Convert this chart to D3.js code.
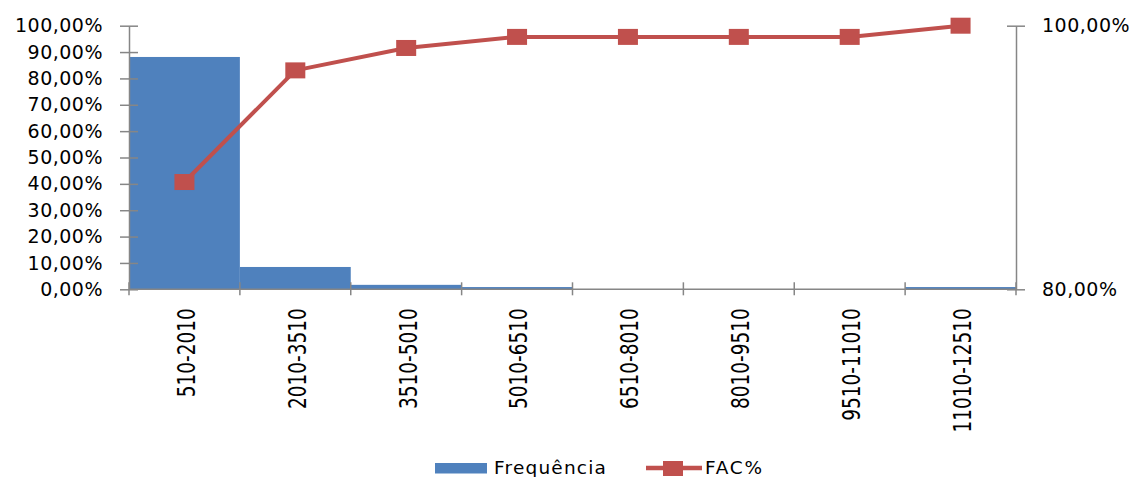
<!DOCTYPE html>
<html>
<head>
<meta charset="utf-8">
<script src="https://cdn.jsdelivr.net/npm/d3@7"></script>
<style>
html,body{margin:0;padding:0;background:#fff;}
svg{display:block;}
text{font-family:"DejaVu Sans",Verdana,sans-serif;fill:#000;}
</style>
</head>
<body>
<svg id="chart" width="1137" height="477"></svg>
<script>
// ---- data ----
const categories = ["510-2010","2010-3510","3510-5010","5010-6510","6510-8010","8010-9510","9510-11010","11010-12510"];
const frequencia = [0.8814, 0.0847, 0.0169, 0.0085, 0, 0, 0, 0.0085];
const facPct = [0.8814, 0.9661, 0.9831, 0.9915, 0.9915, 0.9915, 0.9915, 1.0];
const leftTicks = [0,0.1,0.2,0.3,0.4,0.5,0.6,0.7,0.8,0.9,1.0];
const rightTicks = [0.8, 1.0];
const seriesNames = ["Frequência","FAC%"];

// ---- layout ----
const svg = d3.select("#chart");
const plot = {left:129, right:1016, top:25.7, bottom:289.3};
const blue = "#4F81BD", red = "#C0504D", axisGrey = "#868686";
const fmt = v => (v*100).toFixed(2).replace(".", ",") + "%";

const x = d3.scaleBand().domain(categories).range([plot.left, plot.right]).paddingInner(0).paddingOuter(0);
const y = d3.scaleLinear().domain([0,1]).range([plot.bottom, plot.top]);
const y2 = d3.scaleLinear().domain([0.8,1]).range([plot.bottom, plot.top]);

// bars
svg.append("g").selectAll("rect").data(categories).join("rect")
  .attr("x", d => x(d))
  .attr("width", x.bandwidth())
  .attr("y", (d,i) => y(frequencia[i]))
  .attr("height", (d,i) => plot.bottom - y(frequencia[i]))
  .attr("fill", blue);

// left axis
const gL = svg.append("g").attr("transform", `translate(${plot.left},0)`)
  .call(d3.axisLeft(y).tickValues(leftTicks).tickFormat(fmt).tickSize(0).tickPadding(26));
gL.select(".domain").attr("stroke", axisGrey).attr("stroke-width", 1.5);
gL.selectAll(".tick line").remove();
gL.selectAll(".tick").append("line").attr("x1",-9).attr("x2",9).attr("stroke",axisGrey).attr("stroke-width",1.5);
gL.selectAll(".tick text").attr("font-size", 19).attr("font-family","DejaVu Sans").attr("letter-spacing","0.5px").attr("fill","#000");

// right axis
const gR = svg.append("g").attr("transform", `translate(${plot.right},0)`)
  .call(d3.axisRight(y2).tickValues(rightTicks).tickFormat(fmt).tickSize(0).tickPadding(26));
gR.select(".domain").attr("stroke", axisGrey).attr("stroke-width", 1.5);
gR.selectAll(".tick line").remove();
gR.selectAll(".tick").append("line").attr("x1",-9).attr("x2",9).attr("stroke",axisGrey).attr("stroke-width",1.5);
gR.selectAll(".tick text").attr("font-size", 19).attr("font-family","DejaVu Sans").attr("letter-spacing","0.5px").attr("fill","#000");

// bottom axis
const gB = svg.append("g").attr("transform", `translate(0,${plot.bottom})`);
gB.append("line").attr("x1",plot.left).attr("x2",plot.right).attr("stroke",axisGrey).attr("stroke-width",1.5);
const bounds = categories.map(c => x(c)).concat([x(categories[categories.length-1]) + x.bandwidth()]);
gB.selectAll("line.tk").data(bounds).join("line").attr("class","tk")
  .attr("x1", d=>d).attr("x2", d=>d).attr("y1",-7).attr("y2",6)
  .attr("stroke",axisGrey).attr("stroke-width",1.5);
gB.selectAll("text").data(categories).join("text")
  .attr("transform", d => `translate(${x(d)+x.bandwidth()/2+2},19) scale(1.3,1) rotate(-90)`)
  .attr("text-anchor","end")
  .attr("dy","0.35em")
  .attr("font-size",18.5)
  .text(d => d);

// FAC line
const line = d3.line().x((d,i) => x(categories[i]) + x.bandwidth()/2).y(d => y2(d));
svg.append("path").datum(facPct).attr("d", line)
  .attr("fill","none").attr("stroke",red).attr("stroke-width",4).attr("stroke-linejoin","round");
svg.append("g").selectAll("rect").data(facPct).join("rect")
  .attr("x",(d,i)=> x(categories[i]) + x.bandwidth()/2 - 10)
  .attr("y", d => y2(d) - 8)
  .attr("width",20).attr("height",16)
  .attr("fill",red);

// legend
const lg = svg.append("g");
lg.append("rect").attr("x",435).attr("y",463).attr("width",52).attr("height",10.5).attr("fill",blue);
lg.append("text").attr("x",494).attr("y",467.5).attr("dy","0.35em").attr("font-size",18.5).attr("letter-spacing","1.2px").text(seriesNames[0]);
lg.append("line").attr("x1",646).attr("x2",702).attr("y1",468).attr("y2",468).attr("stroke",red).attr("stroke-width",4.5);
lg.append("rect").attr("x",663).attr("y",461).attr("width",20).attr("height",15).attr("fill",red);
lg.append("text").attr("x",705).attr("y",467.5).attr("dy","0.35em").attr("font-size",18.5).attr("letter-spacing","1.8px").text(seriesNames[1]);
</script>
</body>
</html>
